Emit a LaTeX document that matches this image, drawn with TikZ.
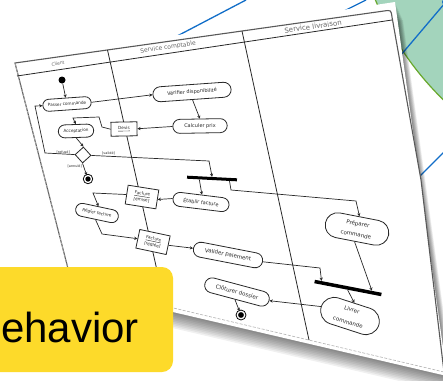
\documentclass[tikz,border=0pt]{standalone}
\usepackage{fontspec}
\setmainfont{Liberation Sans}
\newfontfamily\umlfont{DejaVu Sans}
\usetikzlibrary{positioning,shapes.geometric,shapes.misc,arrows.meta,calc}

\definecolor{jaune}{RGB}{253,218,42}
\definecolor{vertfond}{RGB}{163,212,188}
\definecolor{vertbord}{RGB}{104,168,44}
\definecolor{bleu}{RGB}{18,110,200}
\definecolor{trait}{RGB}{40,40,40}

\def\feuille{(13,60) -- (395,2) -- (447,376) -- (70,288) -- cycle}
\def\carte{(15,63) -- (384,11) .. controls (391,10) .. (392,17) -- (421,180) -- (444,372) -- (72,284) -- cycle}

\begin{document}
\begin{tikzpicture}[
    x=1pt, y=-1pt,
    every node/.style={font=\umlfont\fontsize{4.2}{5}\selectfont, text=trait},
    action/.style={draw=trait, rounded rectangle, line width=0.8pt, inner sep=0.8pt, fill=white},
    objet/.style={draw=trait, rectangle, line width=0.8pt, inner sep=0.8pt, align=center, fill=white},
    barre/.style={fill=black, inner sep=0pt, minimum height=3pt},
    debut/.style={circle, fill=black, inner sep=0pt, minimum size=7pt},
    fin/.style={circle, fill=black, draw=black, double=white, double distance=1.3pt, line width=0.9pt, inner sep=0pt, minimum size=7pt},
    decision/.style={diamond, draw=trait, line width=0.8pt, inner sep=0pt, minimum size=16pt, fill=white},
    garde/.style={font=\umlfont\fontsize{3.4}{4}\selectfont, inner sep=0.5pt},
    couloir/.style={text=gray!80!black, rotate=8},
    fleche/.style={draw=trait, line width=0.7pt, -{Stealth[length=3.2pt, width=3.2pt]}}
]
\useasboundingbox (0,0) rectangle (443,380);
\clip (0,0) rectangle (443,380);

% fond : cercle vert et liens bleus
\filldraw[fill=vertfond, draw=vertbord, line width=1.2pt] (655,-117) circle (303);
\draw[bleu, line width=1.3pt] (160,45) -- (246,0);
\draw[bleu, line width=1.3pt] (338,14) -- (366,0);
\draw[bleu, line width=1.3pt] (395,62) -- (445,3);
\draw[bleu, line width=1.3pt] (412,184) -- (446,150);
\fill[bleu] (446,2) circle (4);

% ombre et feuille
\foreach \k in {1,...,10}
    \fill[black, opacity=0.06, shift={(0.8*\k,1.8*\k)}] \feuille;
\fill[white] \feuille;
\fill[white] \carte;

% couloirs
\draw[gray!70!black, line width=1.1pt] (72,284) -- (15,63) -- (384,11) .. controls (391,10) .. (392,17) -- (421,180) -- (444,372);
\draw[gray!60, line width=0.6pt, dash pattern=on 3pt off 1.5pt] (15,63) -- (72,284) -- (444,372);
\draw[trait, line width=0.8pt] (17,76) -- (392,20);
\draw[trait, line width=0.8pt] (107.5,50) -- (165,306);
\draw[trait, line width=0.8pt] (242,31) -- (309,340);
\node[couloir, font=\umlfont\fontsize{4.5}{5}\selectfont] (client) at (58,63.5) {Client};
\node[couloir, font=\umlfont\fontsize{6}{7}\selectfont] (comptable) at (168,47.5) {Service comptable};
\node[couloir, font=\umlfont\fontsize{7}{8}\selectfont] (livraison) at (313,26.5) {Service livraison};

% actions
\node[debut] (debut) at (62,80) {};
\node[action, minimum width=50pt, minimum height=12pt, rotate=4] (passer) at (67,104) {Passer commande};
\node[action, minimum width=80pt, minimum height=15pt, rotate=4, font=\umlfont\fontsize{5}{6}\selectfont] (verifier) at (192,92) {Vérifier disponibilité};
\node[action, minimum width=56pt, minimum height=14pt, rotate=1, font=\umlfont\fontsize{5}{6}\selectfont] (calculer) at (200,126) {Calculer prix};
\node[objet, minimum width=26pt, minimum height=14pt, rotate=1] (devis) at (124,129) {\underline{Devis}};
\node[action, minimum width=37pt, minimum height=13pt, rotate=2] (acceptation) at (76,131) {Acceptation};
\node[decision, rotate=-3] (choix) at (83,155) {};
\node[fin] (fin1) at (88,179) {};
\node[garde, above left=0pt and 4pt of choix.west] (refus) {[refusé]};
\node[garde, above right=0pt and 10pt of choix.east] (valide) {[validé]};
\node[garde, below left=1pt and 0pt of choix.south] (annule) {[annulé]};

\node[barre, minimum width=50pt, rotate=-3] (jonction1) at (212,178.5) {};
\node[action, minimum width=58pt, minimum height=14pt, rotate=-7, font=\umlfont\fontsize{5}{6}\selectfont] (etablir) at (201,202) {Établir facture};
\node[objet, minimum width=31pt, minimum height=19pt, rotate=-9] (emise) at (142,197) {\underline{Facture}\\{[émise]}};
\node[action, minimum width=45pt, minimum height=13pt, rotate=-12] (regler) at (97,213) {Régler facture};
\node[objet, minimum width=31pt, minimum height=19pt, rotate=-12] (reglee) at (153,242) {\underline{Facture}\\{[réglée]}};
\node[action, minimum width=72pt, minimum height=15pt, rotate=-11, font=\umlfont\fontsize{5.5}{6}\selectfont] (valider) at (228,255) {Valider paiement};
\node[action, minimum width=66pt, minimum height=25pt, align=center, rotate=-11, font=\umlfont\fontsize{5.5}{11}\selectfont] (preparer) at (357,229) {Préparer\\commande};
\node[barre, minimum width=68pt, minimum height=3.5pt, rotate=-11] (jonction2) at (348,288) {};
\node[action, minimum width=62pt, minimum height=27pt, align=center, rotate=-18, font=\umlfont\fontsize{5.5}{13}\selectfont] (livrer) at (350,316) {Livrer\\commande};
\node[action, minimum width=68pt, minimum height=15pt, rotate=-15, font=\umlfont\fontsize{5.5}{6}\selectfont] (cloturer) at (237,292) {Clôturer dossier};
\node[fin, minimum size=7.5pt] (fin2) at (241,315) {};

% points de passage
\coordinate (d1) at (102,127);
\coordinate (d2) at (99,117);
\coordinate (d3) at (73,118);
\coordinate (b1) at (45,153);
\coordinate (b2) at (35,106);
\coordinate (v1) at (209,161);
\coordinate (j1) at (231,190);
\coordinate (j2) at (356,201);
\coordinate (e1) at (93,193);
\coordinate (r1) at (102,234);
\coordinate (p1) at (320,268);

% transitions
\draw[fleche] (debut) -- (passer);
\draw[fleche] (passer.east) -- (verifier.west);
\draw[fleche] (verifier.south) -- (calculer.north);
\draw[fleche] (calculer.west) -- (devis.east);
\draw[fleche] (devis.west) -- (d1) -- (d2) -- (d3) -- (acceptation.north);
\draw[fleche] (acceptation.south) -- (choix.north);
\draw[fleche] (choix.west) -- (b1) -- (b2) -- (passer.west);
\draw[fleche] (choix.south) -- (fin1);
\draw[fleche] (choix.east) -- (v1) -- (jonction1.north);
\draw[fleche] ($(jonction1.south west)!0.25!(jonction1.south east)$) -- (etablir.north);
\draw[fleche] ($(jonction1.south west)!0.85!(jonction1.south east)$) -- (j1) -- (j2) -- (preparer.north);
\draw[fleche] (etablir.west) -- (emise.east);
\draw[fleche] (emise.west) -- (e1) -- (regler.north);
\draw[fleche] (regler.south) -- (r1) -- (reglee.west);
\draw[fleche] (reglee.east) -- (valider.west);
\draw[fleche] (valider.east) -- (p1) -- ($(jonction2.north west)!0.1!(jonction2.north east)$);
\draw[fleche] (preparer.south) -- ($(jonction2.north west)!0.85!(jonction2.north east)$);
\draw[fleche] (jonction2.south) -- (livrer.north);
\draw[fleche] (livrer.west) -- (cloturer.east);
\draw[fleche] (cloturer.south) -- (fin2);

% etiquette jaune
\fill[jaune, rounded corners=11pt] (-20,267) rectangle (173,372);
\node[font=\fontsize{42}{42}\selectfont, text=black, anchor=base west, inner sep=0pt] (titre) at (1,342) {ehavior};
\end{tikzpicture}
\end{document}
